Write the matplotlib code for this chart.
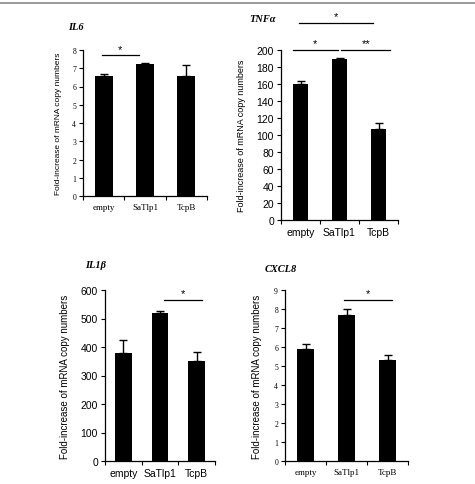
import matplotlib
matplotlib.use("Agg")
import matplotlib.pyplot as plt
from matplotlib.lines import Line2D
import numpy as np

categories = ["empty", "SaTlp1", "TcpB"]

il6_values = [6.6, 7.22, 6.57]
il6_err = [0.1, 0.05, 0.6]
tnf_values = [160, 190, 107]
tnf_err = [3, 0.5, 7]
il1b_values = [380, 520, 350]
il1b_err = [45, 8, 33]
cxcl8_values = [5.92, 7.7, 5.3]
cxcl8_err = [0.25, 0.3, 0.3]

W, H = 475, 485
fig = plt.figure(figsize=(W / 100, H / 100), dpi=100)

SANS = "Liberation Sans"
SERIF = "Liberation Serif"

def add_ax(x0, x1, ytop, ybot):
    return fig.add_axes([x0 / W, 1 - ybot / H, (x1 - x0) / W, (ybot - ytop) / H])

def panel(ax, vals, errs, ymax, ystep, tickfont, ticksize, xfont, xsize, width,
          title, title_xy, ylabel_x, ylabel_size):
    x = np.arange(len(categories))
    ax.bar(x, vals, width=width, color="black", zorder=2)
    ax.errorbar(x, vals, yerr=[np.zeros(len(errs)), errs], fmt="none",
                ecolor="black", elinewidth=1, capsize=3, capthick=1, zorder=3)
    ax.set_xlim(-0.5, 2.5)
    ax.set_ylim(0, ymax)
    ax.set_yticks(np.arange(0, ymax + ystep / 2, ystep))
    ax.set_xticks(x)
    ax.set_xticks([-0.5, 0.5, 1.5, 2.5], minor=True)
    ax.tick_params(axis="x", which="major", length=0, pad=5)
    ax.tick_params(axis="x", which="minor", length=3, width=0.8, direction="out")
    ax.tick_params(axis="y", length=3, width=0.8, direction="out", pad=2)
    ax.set_xticklabels(categories, fontfamily=xfont, fontsize=xsize)
    for lab in ax.get_yticklabels():
        lab.set_fontfamily(tickfont)
        lab.set_fontsize(ticksize)
    for s in ["top", "right"]:
        ax.spines[s].set_visible(False)
    for s in ["left", "bottom"]:
        ax.spines[s].set_linewidth(0.9)
    fig.text(title_xy[0] / W, 1 - title_xy[1] / H, title, fontfamily=SERIF,
             fontweight="bold", fontstyle="italic", fontsize=7.5,
             ha="left", va="center")
    pos = ax.get_position()
    fig.text(ylabel_x / W, (pos.y0 + pos.y1) / 2,
             "Fold-increase of mRNA copy numbers", rotation=90,
             fontfamily=SANS, fontsize=ylabel_size, ha="center", va="center")

def sig(ax, x0, x1, y, text, dy):
    ax.add_line(Line2D([x0, x1], [y, y], color="black", lw=0.9, clip_on=False))
    ax.text((x0 + x1) / 2, y + dy, text, ha="center", va="bottom",
            fontfamily=SANS, fontsize=8, clip_on=False)

# IL6
ax1 = add_ax(83, 207, 51, 197)
panel(ax1, il6_values, il6_err, 8, 1, SERIF, 5.5, SERIF, 6.5, 0.44,
      "IL6", (68, 28), 59, 6.0)
sig(ax1, -0.05, 0.85, 7.7, "*", 0.05)

# TNFa
ax2 = add_ax(281, 398, 51, 221)
panel(ax2, tnf_values, tnf_err, 200, 20, SANS, 7.5, SANS, 7.5, 0.4,
      "TNF\u03b1", (249, 19), 242, 6.5)
sig(ax2, -0.05, 1.85, 232, "*", 2)
sig(ax2, -0.2, 0.95, 200, "*", 2)
sig(ax2, 1.05, 2.3, 200, "**", 2)

# IL1b
ax3 = add_ax(105, 215, 291, 462)
panel(ax3, il1b_values, il1b_err, 600, 100, SANS, 7.5, SANS, 7.5, 0.46,
      "IL1\u03b2", (85, 266), 65, 7.0)
sig(ax3, 1.1, 2.15, 565, "*", 6)

# CXCL8
ax4 = add_ax(285, 408, 291, 462)
panel(ax4, cxcl8_values, cxcl8_err, 9, 1, SERIF, 5.5, SERIF, 6.5, 0.43,
      "CXCL8", (265, 269), 257, 7.0)
sig(ax4, 0.95, 2.1, 8.45, "*", 0.1)

fig.add_artist(Line2D([0, 1], [1 - 4 / H, 1 - 4 / H], color="#888888", lw=1.2,
                      transform=fig.transFigure))

fig.savefig("out.png", dpi=100, facecolor="white")
